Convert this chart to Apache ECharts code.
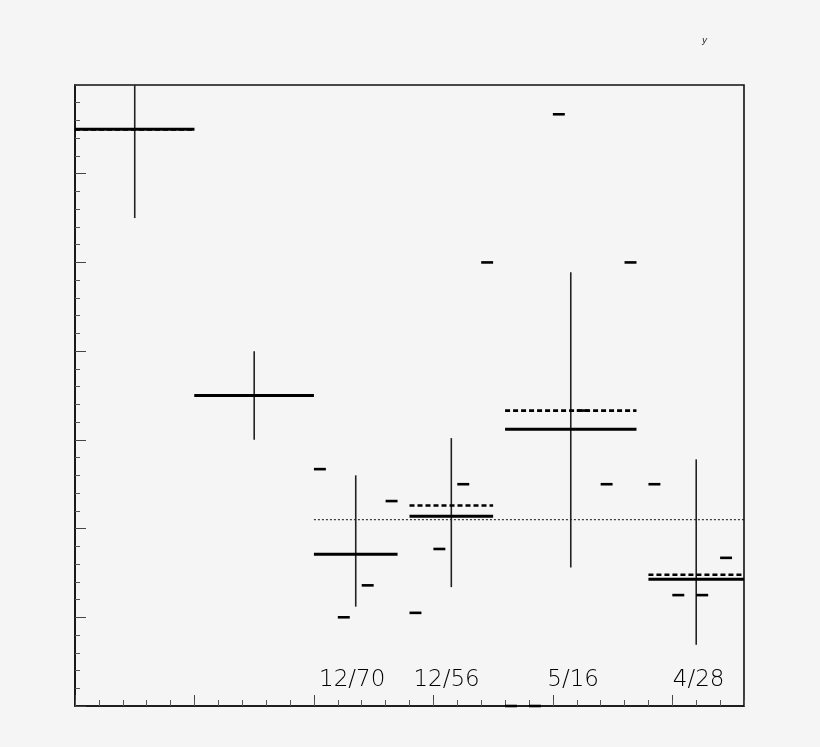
<!DOCTYPE html>
<html>
<head>
    <meta charset="UTF-8">
    <title>ratio plot</title>
    <script src="https://cdn.jsdelivr.net/npm/echarts@6/dist/echarts.min.js"></script>
    <style>
        body { margin: 0; padding: 0; background: #f5f5f5; }
        #chart { width: 820px; height: 747px; }
    </style>
</head>
<body>
    <div id="chart"></div>
    <script>
        // wide bins: edges, centres, measured value and error range
        const binLo = [0, 1, 2.0, 2.8, 3.6, 4.8];
        const binHi = [1, 2, 2.7, 3.5, 4.7, 5.6];
        const binMid = [0.5, 1.5, 2.35, 3.15, 4.15, 5.2];
        const measured = [6.5, 3.5, 1.71, 2.14, 3.12, 1.43];
        const errHigh = [7.5, 4.0, 2.6, 3.02, 4.89, 2.78];
        const errLow = [5.5, 3.0, 1.12, 1.34, 1.56, 0.69];
        // dashed (expected) level per bin
        const expected = [6.5, 3.5, null, 2.26, 3.33, 1.48];

        // small sub-bin markers
        const subX = [2.05, 2.25, 2.45, 2.65, 2.85, 3.05, 3.25, 3.45, 3.65, 3.85,
                      4.05, 4.25, 4.45, 4.65, 4.85, 5.05, 5.25, 5.45];
        const subVal = [2.67, 1.0, 1.36, 2.31, 1.05, 1.77, 2.5, 5.0, 0, 0,
                        6.67, 3.33, 2.5, 5.0, 2.5, 1.25, 1.25, 1.67];

        // dotted reference level
        const refLevel = 2.1;
        const refFrom = 2.0;
        const refTo = 5.6;

        // ratio labels
        const ratioLabels = ['12/70', '12/56', '5/16', '4/28'];
        const ratioX = [2.32, 3.11, 4.17, 5.22];
        const ratioY = 0.29;

        const chart = echarts.init(document.getElementById('chart'));

        function clampY(y, cs) {
            return Math.min(Math.max(y, cs.y), cs.y + cs.height);
        }

        function hLine(lineStyle) {
            return function (params, api) {
                const a = api.coord([api.value(0), api.value(2)]);
                const b = api.coord([api.value(1), api.value(2)]);
                return {
                    type: 'line',
                    shape: { x1: a[0], y1: a[1], x2: b[0], y2: b[1] },
                    style: lineStyle
                };
            };
        }

        const option = {
            backgroundColor: '#f5f5f5',
            animation: false,
            grid: {
                left: 75, right: 76, top: 85, bottom: 41,
                show: true, borderColor: '#111', borderWidth: 1.6,
                backgroundColor: 'transparent'
            },
            xAxis: [{
                type: 'value', min: 0, max: 5.6, interval: 1, position: 'bottom',
                axisLine: { show: true, lineStyle: { color: '#111', width: 1.6 } },
                axisTick: { show: true, inside: true, length: 11, lineStyle: { color: '#444', width: 1 } },
                axisLabel: { show: false },
                splitLine: { show: false }
            }, {
                type: 'value', min: 0, max: 5.6, interval: 0.2, position: 'bottom',
                axisLine: { show: false },
                axisTick: { show: true, inside: true, length: 6, lineStyle: { color: '#555', width: 1 } },
                axisLabel: { show: false },
                splitLine: { show: false }
            }],
            yAxis: {
                type: 'value', min: 0, max: 7, interval: 1,
                axisLine: { show: true, lineStyle: { color: '#111', width: 1.6 } },
                axisTick: { show: true, inside: true, length: 11, lineStyle: { color: '#444', width: 1 } },
                minorTick: { show: true, splitNumber: 5, length: 5, lineStyle: { color: '#555', width: 1 } },
                axisLabel: { show: false },
                splitLine: { show: false }
            },
            series: [
                {
                    // dotted reference line
                    type: 'custom',
                    data: [[refFrom, refTo, refLevel]],
                    renderItem: hLine({ stroke: '#111', lineWidth: 1, lineDash: [2, 2] })
                },
                {
                    // vertical error bars
                    type: 'custom',
                    data: binMid.map((x, i) => [x, errLow[i], errHigh[i]]),
                    renderItem: function (params, api) {
                        const cs = params.coordSys;
                        const a = api.coord([api.value(0), api.value(1)]);
                        const b = api.coord([api.value(0), api.value(2)]);
                        return {
                            type: 'line',
                            shape: { x1: a[0], y1: clampY(a[1], cs), x2: b[0], y2: clampY(b[1], cs) },
                            style: { stroke: '#222', lineWidth: 1.6 }
                        };
                    }
                },
                {
                    // dashed expected level
                    type: 'custom',
                    data: binLo.map((lo, i) => [lo, binHi[i], expected[i]]).filter(d => d[2] !== null),
                    renderItem: hLine({ stroke: '#000', lineWidth: 2.6, lineDash: [5, 3] })
                },
                {
                    // solid measured level
                    type: 'custom',
                    data: binLo.map((lo, i) => [lo, binHi[i], measured[i]]),
                    renderItem: hLine({ stroke: '#000', lineWidth: 3 })
                },
                {
                    // small sub-bin markers
                    type: 'custom',
                    clip: false,
                    data: subX.map((x, i) => [x - 0.05, x + 0.05, subVal[i]]),
                    renderItem: hLine({ stroke: '#000', lineWidth: 2.6 })
                },
                {
                    // ratio labels
                    type: 'custom',
                    data: ratioX.map(x => [x, ratioY]),
                    renderItem: function (params, api) {
                        const p = api.coord([api.value(0), api.value(1)]);
                        return {
                            type: 'text',
                            x: p[0], y: p[1],
                            style: {
                                text: ratioLabels[params.dataIndex],
                                fill: '#000',
                                font: '200 23px "DejaVu Sans"',
                                align: 'center',
                                verticalAlign: 'middle'
                            }
                        };
                    }
                }
            ],
            graphic: [{
                type: 'text', left: 702, top: 36,
                style: { text: 'y', fill: '#222', font: 'italic 9px "DejaVu Sans"' }
            }]
        };

        chart.setOption(option);
    </script>
</body>
</html>
